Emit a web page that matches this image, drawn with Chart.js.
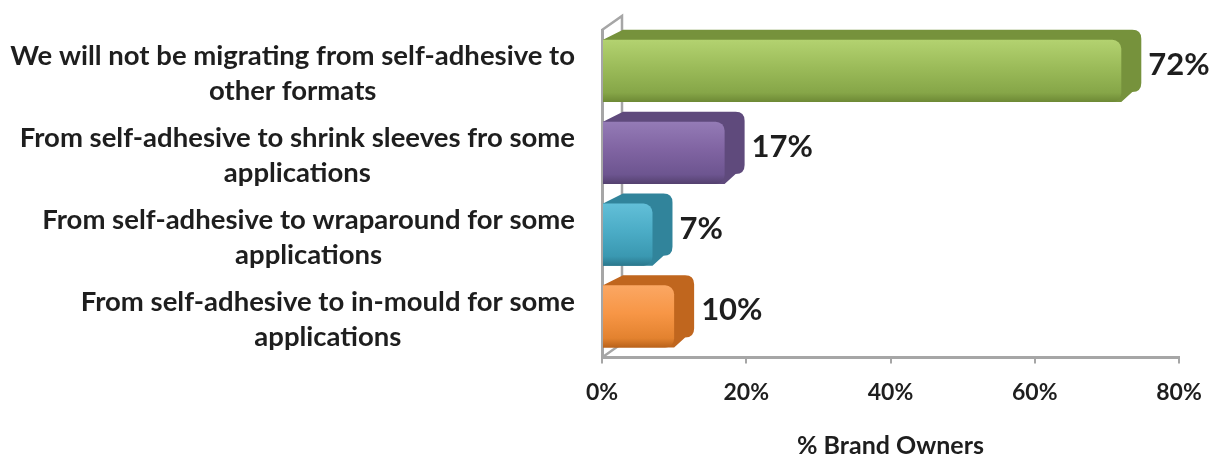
<!DOCTYPE html>
<html>
<head>
<meta charset="utf-8">
<title>Migration from self-adhesive</title>
<script src="https://cdn.jsdelivr.net/npm/chart.js@4"></script>
<style>
    html, body { margin: 0; padding: 0; background: #fff; }
    #wrap { width: 1217px; height: 458px; }
</style>
</head>
<body>
<div id="wrap"><canvas id="migrationChart" width="1217" height="458"></canvas></div>
<script>
// Chart data
const categories = [
    ['We will not be migrating from self-adhesive to', 'other formats'],
    ['From self-adhesive to shrink sleeves fro some', 'applications'],
    ['From self-adhesive to wraparound for some', 'applications'],
    ['From self-adhesive to in-mould for some', 'applications'],
];
const shares = [72, 17, 7, 10];
const xTicks = [0, 20, 40, 60, 80];
const axisTitle = '% Brand Owners';

// Style
const frontColors = [
    ['#b3d270', '#9bbb59', '#86a648', '#6d8935'],
    ['#947bb6', '#8064a2', '#6d5590', '#54416f'],
    ['#62bfd8', '#4bacc6', '#3a98b1', '#2b778c'],
    ['#fba763', '#f79646', '#e3822f', '#b9621a'],
];
const sideColors = ['#76923c', '#5f4a7c', '#31849b', '#c0661e'];
const textColor = '#1e1e1e';
const frameColor = '#a6a6a6';
const depth = { dx: 20, dy: -10 };
const wallDepth = { dx: 20, dy: -14 };
const corner = 9;

function frontGradient(ctx) {
    const chart = ctx.chart;
    const yScale = chart.scales.y;
    const colors = frontColors[ctx.dataIndex];
    if (!yScale || !chart.chartArea) return colors[1];
    const center = yScale.getPixelForValue(ctx.dataIndex);
    const step = Math.abs(yScale.getPixelForValue(1) - yScale.getPixelForValue(0));
    const h = step * 0.76 / 2;
    const g = chart.ctx.createLinearGradient(0, center - h, 0, center + h);
    g.addColorStop(0, colors[0]);
    g.addColorStop(0.45, colors[1]);
    g.addColorStop(0.85, colors[2]);
    g.addColorStop(1, colors[3]);
    return g;
}

// back wall + floor diagonals, drawn behind the bars
const framePlugin = {
    id: 'frame',
    beforeDatasetsDraw(chart) {
        const { ctx, chartArea } = chart;
        ctx.save();
        ctx.strokeStyle = frameColor;
        ctx.lineWidth = 2.5;
        ctx.beginPath();
        ctx.moveTo(chartArea.left, chartArea.top);
        ctx.lineTo(chartArea.left + wallDepth.dx, chartArea.top + wallDepth.dy);
        ctx.lineTo(chartArea.left + wallDepth.dx, chartArea.bottom + wallDepth.dy);
        ctx.lineTo(chartArea.left, chartArea.bottom);
        ctx.stroke();
        ctx.restore();

        // extruded part of each bar
        const meta = chart.getDatasetMeta(0);
        meta.data.forEach((bar, i) => {
            const top = bar.y - bar.height / 2;
            const bottom = bar.y + bar.height / 2;
            const r = corner;
            ctx.save();
            ctx.fillStyle = sideColors[i];
            ctx.beginPath();
            ctx.moveTo(bar.base, top);
            ctx.lineTo(bar.base + depth.dx, top + depth.dy);
            ctx.lineTo(bar.x + depth.dx - r, top + depth.dy);
            ctx.quadraticCurveTo(bar.x + depth.dx, top + depth.dy, bar.x + depth.dx, top + depth.dy + r);
            ctx.lineTo(bar.x + depth.dx, bottom + depth.dy - r);
            ctx.quadraticCurveTo(bar.x + depth.dx, bottom + depth.dy, bar.x + depth.dx - r, bottom + depth.dy);
            ctx.lineTo(bar.x, bottom);
            ctx.lineTo(bar.base, bottom);
            ctx.closePath();
            ctx.fill();
            ctx.restore();
        });
    }
};

// category labels (centred block, right aligned to the axis) and value labels
const labelPlugin = {
    id: 'labels',
    afterDatasetsDraw(chart) {
        const { ctx, chartArea } = chart;
        const yScale = chart.scales.y;
        ctx.save();
        ctx.fillStyle = textColor;
        ctx.textBaseline = 'middle';

        ctx.font = 'bold 27.5px Lato';
        ctx.textAlign = 'center';
        const lineH = 35;
        categories.forEach((lines, i) => {
            const widest = Math.max(...lines.map(l => ctx.measureText(l).width));
            const cx = chartArea.left - 27 - widest / 2;
            const cy = yScale.getPixelForValue(i) + 3;
            lines.forEach((l, j) => {
                ctx.fillText(l, cx, cy + (j - (lines.length - 1) / 2) * lineH);
            });
        });

        ctx.font = 'bold 31px Lato';
        ctx.textAlign = 'left';
        const meta = chart.getDatasetMeta(0);
        meta.data.forEach((bar, i) => {
            ctx.fillText(shares[i] + '%', bar.x + depth.dx + 7, bar.y - 6);
        });
        ctx.restore();
    }
};

const chart = new Chart(document.getElementById('migrationChart').getContext('2d'), {
    type: 'bar',
    data: {
        labels: categories,
        datasets: [{
            data: shares,
            backgroundColor: frontGradient,
            borderWidth: 0,
            borderRadius: corner,
            barPercentage: 0.76,
            categoryPercentage: 1.0,
        }]
    },
    options: {
        indexAxis: 'y',
        responsive: false,
        animation: false,
        layout: { padding: { top: 30, right: 38, bottom: 0, left: 0 } },
        plugins: {
            legend: { display: false },
            tooltip: { enabled: false },
        },
        scales: {
            x: {
                min: 0,
                max: 80,
                afterBuildTicks: scale => { scale.ticks = xTicks.map(v => ({ value: v })); },
                grid: { display: true, drawOnChartArea: false, drawTicks: true, tickLength: 6, color: frameColor, lineWidth: 2 },
                border: { display: true, color: frameColor, width: 3 },
                ticks: {
                    padding: 15,
                    color: textColor,
                    font: { family: 'Lato', size: 23, weight: 'bold' },
                    callback: v => v + '%',
                },
                title: {
                    display: true,
                    text: axisTitle,
                    color: textColor,
                    font: { family: 'Lato', size: 25, weight: 'bold', lineHeight: 1 },
                    padding: { top: 12, bottom: 0 },
                },
            },
            y: {
                grid: { display: false, drawTicks: false },
                border: { display: true, color: frameColor, width: 3 },
                ticks: { display: false },
                afterFit: scale => { scale.width = 602; },
            }
        }
    },
    plugins: [framePlugin, labelPlugin]
});
</script>
</body>
</html>
